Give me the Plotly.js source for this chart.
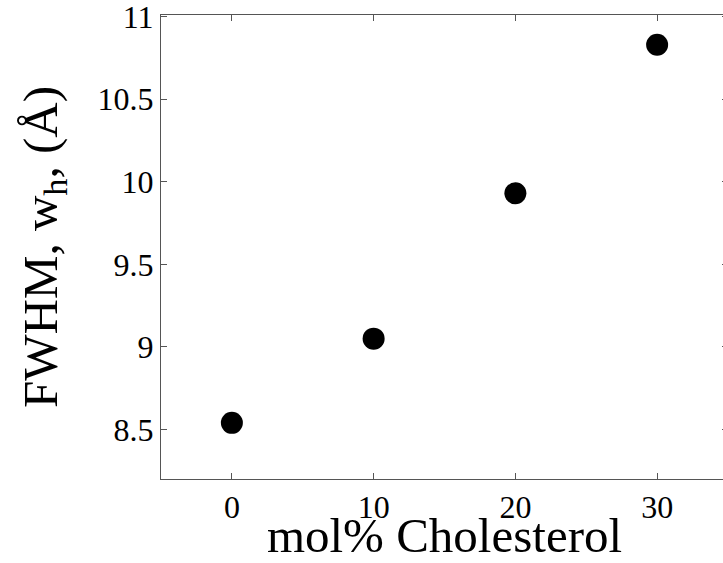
<!DOCTYPE html>
<html>
<head>
<meta charset="utf-8">
<script src="https://cdn.plot.ly/plotly-3.0.1.min.js"></script>
<style>
html, body { margin: 0; padding: 0; overflow: hidden; background: #fff; }
#chart { width: 728px; height: 563px; }
</style>
</head>
<body>
<div id="chart"></div>
<script>
const cholesterol = [0, 10, 20, 30];
const fwhm = [8.54, 9.05, 9.93, 10.83];
const xTicks = [0, 10, 20, 30];
const yTicks = [8.5, 9, 9.5, 10, 10.5, 11];

const serif = "'Times New Roman', 'Liberation Serif', Times, serif";

const trace = {
  x: cholesterol,
  y: fwhm,
  type: 'scatter',
  mode: 'markers',
  marker: { color: '#000', size: 22 },
  hoverinfo: 'skip',
  cliponaxis: false
};

const axisCommon = {
  showgrid: false,
  zeroline: false,
  showline: true,
  linecolor: '#555',
  linewidth: 1,
  mirror: 'ticks',
  ticks: 'inside',
  ticklen: 6,
  tickcolor: '#555',
  tickwidth: 1,
  ticklabeloverflow: 'allow',
  tickfont: { family: serif, size: 32, color: '#000' }
};

const layout = {
  width: 728,
  height: 563,
  margin: { l: 161, r: 0, t: 15, b: 84 },
  paper_bgcolor: '#fff',
  plot_bgcolor: '#fff',
  showlegend: false,
  xaxis: Object.assign({}, axisCommon, {
    range: [-5, 35],
    tickmode: 'array',
    tickvals: xTicks,
    ticktext: xTicks.map(String),
    title: { text: 'mol% Cholesterol', font: { family: serif, size: 49, color: '#000' }, standoff: 4 }
  }),
  yaxis: Object.assign({}, axisCommon, {
    range: [8.2, 11.01],
    tickmode: 'array',
    tickvals: yTicks,
    ticktext: yTicks.map(String),
    title: { text: 'FWHM, w<sub>h</sub>, (Å)', font: { family: serif, size: 49, color: '#000' }, standoff: 24 }
  })
};

Plotly.newPlot('chart', [trace], layout, { displayModeBar: false, staticPlot: true });
</script>
</body>
</html>
